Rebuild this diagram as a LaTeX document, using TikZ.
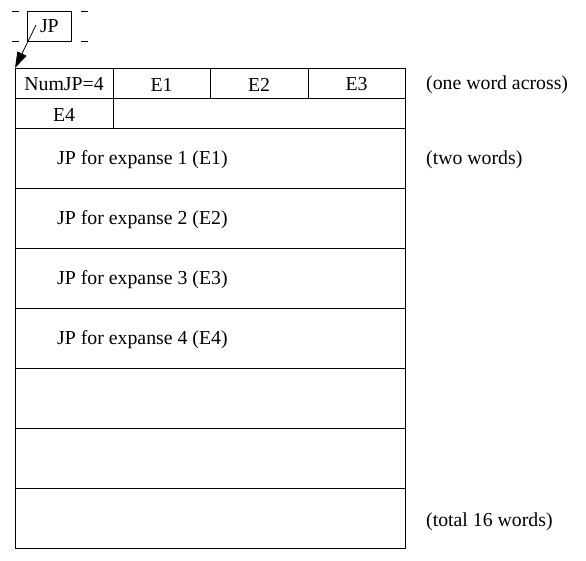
\documentclass[tikz,border=0pt]{standalone}
\usepackage{fontspec}
\setmainfont{Liberation Serif}
\usetikzlibrary{arrows.meta}
\begin{document}
\begin{tikzpicture}[x=1pt,y=-1pt,
  line/.style={draw=black,line width=0.8pt},
  txt/.style={font=\fontsize{19.8}{22}\selectfont,inner sep=0pt,yshift=-1.5pt},
  cell/.style={draw=black,line width=0.8pt,font=\fontsize{19.8}{22}\selectfont,inner sep=0pt}]
\useasboundingbox (0,0) rectangle (586,560);
% JP box with dashes
\node[cell,minimum width=44pt,minimum height=30pt,anchor=north west] (jp) at (27,11) {JP};
\coordinate (d1a) at (12,11); \coordinate (d1b) at (19,11);
\coordinate (d2a) at (12,41); \coordinate (d2b) at (19,41);
\coordinate (d3a) at (81,11); \coordinate (d3b) at (88,11);
\coordinate (d4a) at (81,41); \coordinate (d4b) at (88,41);
\draw[line] (d1a)--(d1b) (d2a)--(d2b) (d3a)--(d3b) (d4a)--(d4b);
% table
\coordinate (tl) at (15,68);
\coordinate (br) at (405,548);
\draw[line] (tl) rectangle (br);
\foreach \y in {98,128,188,248,308,368,428,488}{\draw[line] (15,\y)--(405,\y);}
\foreach \x in {113,210,308}{\draw[line] (\x,68)--(\x,98);}
\draw[line] (113,98)--(113,128);
\node[txt] (n0) at (64,83) {NumJP=4};
\node[txt] (e1) at (161.5,83) {E1};
\node[txt] (e2) at (259,83) {E2};
\node[txt] (e3) at (356.5,83) {E3};
\node[txt] (e4) at (64,113) {E4};
\node[txt,anchor=west] (j1) at (57,158) {JP for expanse 1 (E1)};
\node[txt,anchor=west] (j2) at (57,218) {JP for expanse 2 (E2)};
\node[txt,anchor=west] (j3) at (57,278) {JP for expanse 3 (E3)};
\node[txt,anchor=west] (j4) at (57,338) {JP for expanse 4 (E4)};
\node[txt,anchor=west] (r1) at (426,83) {(one word across)};
\node[txt,anchor=west] (r2) at (426,158) {(two words)};
\node[txt,anchor=west] (r3) at (426,520) {(total 16 words)};
% arrow
\coordinate (as) at (36,25);
\draw[line,-{Triangle[length=16pt,width=10pt]}] (as)--(tl);
\end{tikzpicture}
\end{document}
